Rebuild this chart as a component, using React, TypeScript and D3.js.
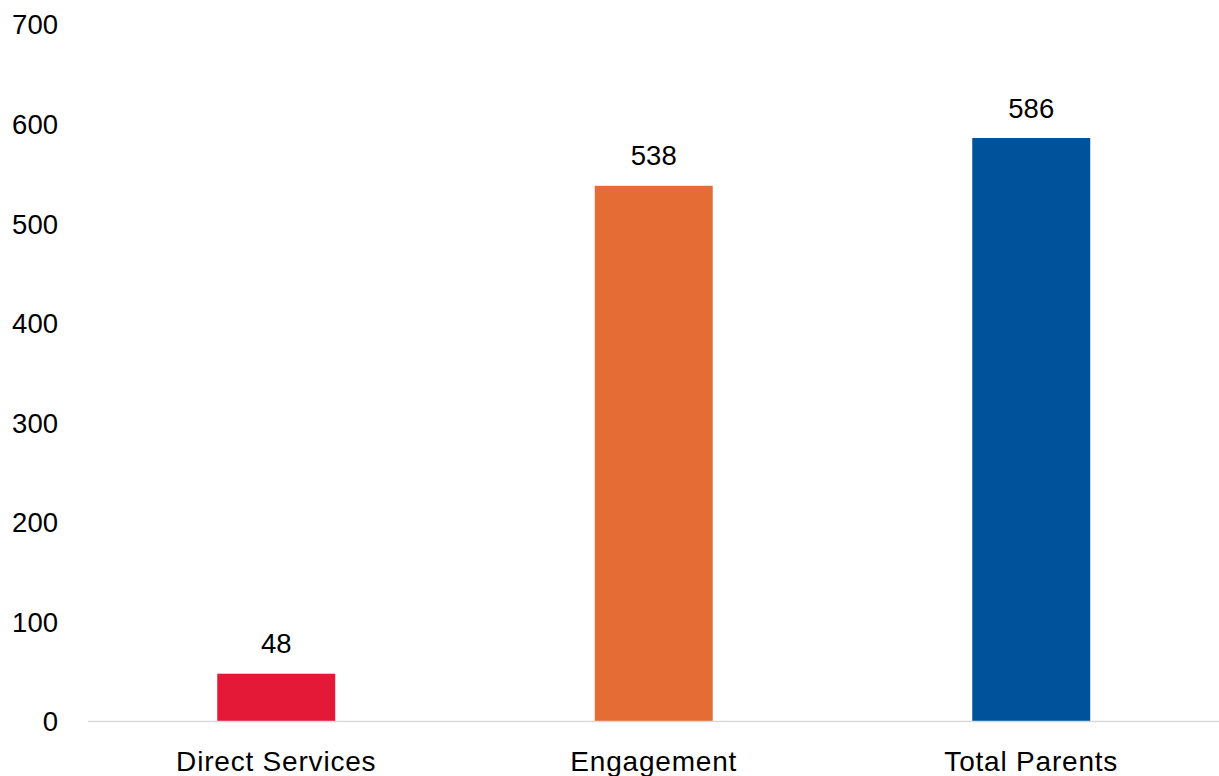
import React from "react";
import * as d3 from "d3";

const categories = ["Direct Services", "Engagement", "Total Parents"];
const values = [48, 538, 586];
const colors = ["#E31937", "#E66C35", "#00529B"];
const yTicks = [0, 100, 200, 300, 400, 500, 600, 700];

export default function App() {
  const W = 1219, H = 776;
  const x = d3.scaleBand<string>().domain(categories).range([87.5, 1220]).paddingInner(0.6875).paddingOuter(0.34375);
  const y = d3.scaleLinear().domain([0, 700]).range([721.5, 24.5]);
  const font = "'Liberation Sans', Arial, sans-serif";
  return (
    <svg width={W} height={H} style={{ position: "absolute", left: 0, top: 0, background: "#fff" }} fontFamily={font}>
      {yTicks.map((t) => (
        <text key={t} x={58} y={y(t)} dy="0.36em" textAnchor="end" fontSize={27.5} fill="#000">{t}</text>
      ))}
      {categories.map((c, i) => (
        <g key={c}>
          <rect x={x(c)} y={y(values[i])} width={x.bandwidth()} height={y(0) - y(values[i])} fill={colors[i]} />
          <text x={x(c)! + x.bandwidth() / 2} y={y(values[i]) - 20.5} textAnchor="middle" fontSize={27.5} fill="#000">{values[i]}</text>
          <text x={x(c)! + x.bandwidth() / 2} y={771} textAnchor="middle" fontSize={28} letterSpacing={0.8} fill="#000">{c}</text>
        </g>
      ))}
      <line x1={88} x2={1219} y1={y(0)} y2={y(0)} stroke="#d9d9d9" strokeWidth={1.5} />
    </svg>
  );
}
